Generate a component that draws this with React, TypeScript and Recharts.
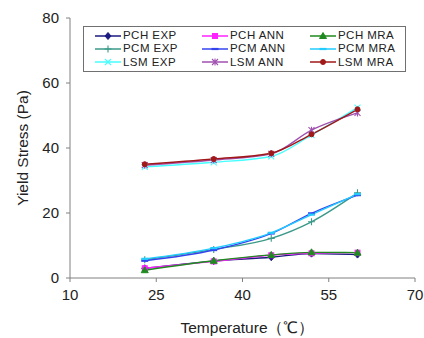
import React from 'react';
import { LineChart, Line, XAxis, YAxis, Legend } from 'recharts';

const temperatures = [23, 35, 45, 52, 60];
const pchExp = [3.0, 5.2, 6.4, 7.5, 7.2];
const pcmExp = [5.6, 8.8, 12.2, 17.3, 26.2];
const lsmExp = [34.2, 35.6, 37.4, 44.0, 52.4];
const pchAnn = [3.0, 5.1, 7.0, 7.6, 7.8];
const pcmAnn = [5.3, 8.6, 13.7, 19.9, 25.5];
const lsmAnn = [34.7, 36.3, 38.2, 45.5, 50.8];
const pchMra = [2.4, 5.3, 7.1, 7.9, 7.8];
const pcmMra = [5.9, 9.2, 13.9, 19.5, 25.8];
const lsmMra = [35.0, 36.6, 38.4, 44.2, 51.9];

const xTicks = [10, 25, 40, 55, 70];
const yTicks = [0, 20, 40, 60, 80];

type Shape = 'diamond' | 'plus' | 'x' | 'square' | 'dash' | 'star' | 'triangle' | 'circle';

const series: { key: string; name: string; color: string; shape: Shape; values: number[] }[] = [
  { key: 'pchExp', name: 'PCH EXP', color: '#1a1a80', shape: 'diamond', values: pchExp },
  { key: 'pchAnn', name: 'PCH ANN', color: '#ff22ff', shape: 'square', values: pchAnn },
  { key: 'pchMra', name: 'PCH MRA', color: '#1f8a1f', shape: 'triangle', values: pchMra },
  { key: 'pcmExp', name: 'PCM EXP', color: '#3a9a8a', shape: 'plus', values: pcmExp },
  { key: 'pcmAnn', name: 'PCM ANN', color: '#3344ee', shape: 'dash', values: pcmAnn },
  { key: 'pcmMra', name: 'PCM MRA', color: '#22ccff', shape: 'dash', values: pcmMra },
  { key: 'lsmExp', name: 'LSM EXP', color: '#44ffff', shape: 'x', values: lsmExp },
  { key: 'lsmAnn', name: 'LSM ANN', color: '#a050b0', shape: 'star', values: lsmAnn },
  { key: 'lsmMra', name: 'LSM MRA', color: '#a01818', shape: 'circle', values: lsmMra },
];

const data = temperatures.map((t, i) => {
  const row: Record<string, number> = { t };
  series.forEach((s) => {
    row[s.key] = s.values[i];
  });
  return row;
});

function Marker({ cx, cy, shape, color }: { cx: number; cy: number; shape: Shape; color: string }) {
  const r = 3;
  switch (shape) {
    case 'diamond':
      return <path d={`M${cx},${cy - r - 0.5}L${cx + r},${cy}L${cx},${cy + r + 0.5}L${cx - r},${cy}Z`} fill={color} stroke={color} />;
    case 'square':
      return <rect x={cx - 2.5} y={cy - 2.5} width={5} height={5} fill={color} stroke={color} />;
    case 'triangle':
      return <path d={`M${cx},${cy - 3.5}L${cx + 3.5},${cy + 2.5}L${cx - 3.5},${cy + 2.5}Z`} fill={color} stroke={color} />;
    case 'circle':
      return <circle cx={cx} cy={cy} r={2.5} fill={color} stroke={color} />;
    case 'plus':
      return <path d={`M${cx - 3.5},${cy}L${cx + 3.5},${cy}M${cx},${cy - 3.5}L${cx},${cy + 3.5}`} stroke={color} strokeWidth={1.1} fill="none" />;
    case 'x':
      return <path d={`M${cx - 3},${cy - 3}L${cx + 3},${cy + 3}M${cx - 3},${cy + 3}L${cx + 3},${cy - 3}`} stroke={color} strokeWidth={1.1} fill="none" />;
    case 'dash':
      return <path d={`M${cx - 3.5},${cy}L${cx + 3.5},${cy}`} stroke={color} strokeWidth={2.2} fill="none" />;
    case 'star':
      return (
        <path
          d={`M${cx - 3},${cy - 3}L${cx + 3},${cy + 3}M${cx - 3},${cy + 3}L${cx + 3},${cy - 3}M${cx},${cy - 3.5}L${cx},${cy + 3.5}`}
          stroke={color}
          strokeWidth={1.1}
          fill="none"
        />
      );
  }
  return null;
}

const legendOrder = [
  ['pchExp', 'pchAnn', 'pchMra'],
  ['pcmExp', 'pcmAnn', 'pcmMra'],
  ['lsmExp', 'lsmAnn', 'lsmMra'],
];
const colLeft = [11, 118, 226];

function LegendBox() {
  return (
    <div
      style={{
        position: 'absolute',
        left: 83,
        top: 26,
        width: 321,
        height: 44,
        border: '1.5px solid #707070',
        background: '#fff',
        fontFamily: '"Liberation Sans", Arial, sans-serif',
        fontSize: 11.5,
        color: '#222',
      }}
    >
      {legendOrder.map((row, ri) =>
        row.map((k, ci) => {
          const s = series.find((x) => x.key === k)!;
          return (
            <div
              key={k}
              style={{ position: 'absolute', left: colLeft[ci], top: 2 + ri * 13.4, height: 13, display: 'flex', alignItems: 'center', whiteSpace: 'nowrap' }}
            >
              <svg width={26} height={12} style={{ display: 'block' }}>
                <line x1={0} y1={6} x2={26} y2={6} stroke={s.color} strokeWidth={1.5} />
                <Marker cx={13} cy={6} shape={s.shape} color={s.color} />
              </svg>
              <span style={{ marginLeft: 2, lineHeight: '13px', letterSpacing: 0.45 }}>{s.name}</span>
            </div>
          );
        })
      )}
    </div>
  );
}

export default function App() {
  const font = '"Liberation Sans", Arial, sans-serif';
  return (
    <div style={{ position: 'absolute', left: 0, top: 0, width: 424, height: 338, background: '#fff' }}>
      <LineChart width={424} height={338} data={data} margin={{ top: 18, right: 9, bottom: 30, left: 0 }}>
        <XAxis
          dataKey="t"
          type="number"
          domain={[10, 70]}
          ticks={xTicks}
          interval={0}
          stroke="#808080"
          tickSize={4}
          tickMargin={7}
          height={30}
          tick={{ fill: '#222', fontSize: 15, fontFamily: font }}
          label={{ value: 'Temperature（℃）', position: 'insideBottom', offset: -25, dx: 5, fill: '#222', fontSize: 15.5, fontFamily: font }}
        />
        <YAxis
          type="number"
          domain={[0, 80]}
          ticks={yTicks}
          interval={0}
          width={70}
          stroke="#808080"
          tickSize={4}
          tickMargin={7}
          tick={{ fill: '#222', fontSize: 15, fontFamily: font }}
          label={{ value: 'Yield Stress (Pa)', angle: -90, position: 'insideLeft', offset: 22, fill: '#222', fontSize: 15.5, fontFamily: font, style: { textAnchor: 'middle' } }}
        />
        <Legend content={() => null} />
        {series.map((s) => (
          <Line
            key={s.key}
            dataKey={s.key}
            name={s.name}
            type="monotone"
            stroke={s.color}
            strokeWidth={1.4}
            isAnimationActive={false}
            dot={(p: any) => (
              <g key={`${s.key}-${p.index}`}>
                <Marker cx={p.cx} cy={p.cy} shape={s.shape} color={s.color} />
              </g>
            )}
            activeDot={false}
          />
        ))}
      </LineChart>
      <LegendBox />
    </div>
  );
}
